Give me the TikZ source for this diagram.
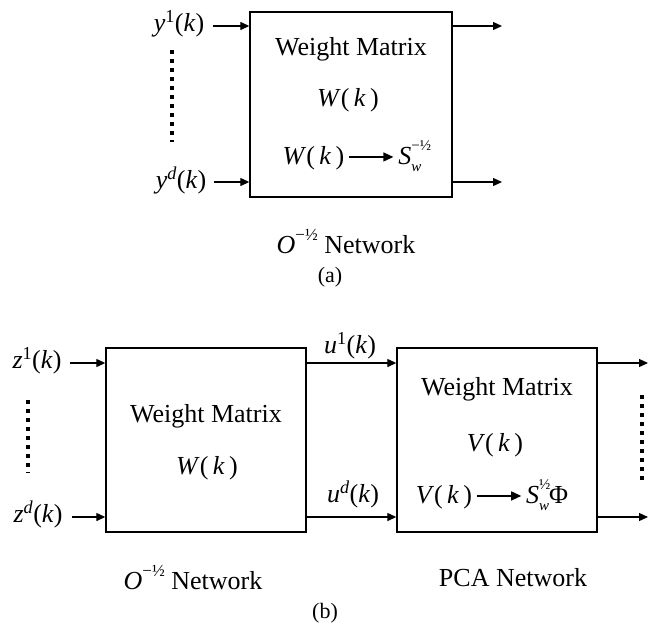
\documentclass[tikz,border=0pt]{standalone}
\usepackage{fontspec}
\setmainfont{Liberation Serif}
\usetikzlibrary{arrows.meta}
\newcommand\mi[1]{\textit{#1}}
\newcommand\smallsz{\fontsize{15}{15}\selectfont}
\newcommand\supsz{\fontsize{17}{17}\selectfont}
\newcommand\kk{(\,\mi{k}\,)}
\newcommand\lk{(\mi{k})}
\newcommand\sarrow{\tikz[baseline=-0.3em]\draw[line width=1.3pt,-{Triangle[length=10pt,width=9pt]}] (0pt,0pt)--(1.7em,0pt);}
\begin{document}
\begin{tikzpicture}[x=1pt,y=-1pt,
  box/.style={draw,line width=1.4pt,minimum width=202pt,minimum height=185pt,inner sep=0pt},
  arr/.style={line width=1.3pt,-{Triangle[length=9pt,width=8pt]}},
  dotl/.style={line width=4pt,dash pattern=on 4pt off 5pt},
  txt/.style={font=\fontsize{26}{30}\selectfont,inner sep=0pt},
  captxt/.style={font=\fontsize{22}{26}\selectfont,inner sep=0pt}]
\useasboundingbox (0,0) rectangle (650,625);
% ---------------- (a) ----------------
\node[box] (A) at (351,104.5) {};
\node[txt] (ay1) at (179,24) {\mi{y}\textsuperscript{1}\lk};
\node[txt] (ayd) at (181,180) {\mi{y}\textsuperscript{\mi{d}}\lk};
\coordinate (ai1) at (213,26);
\coordinate (aid) at (214,182);
\draw[arr] (ai1) -- (ai1 -| A.west);
\draw[arr] (aid) -- (aid -| A.west);
\coordinate (ao1) at (502,26);
\coordinate (aod) at (502,182);
\draw[arr] (ao1 -| A.east) -- (ao1);
\draw[arr] (aod -| A.east) -- (aod);
\coordinate (adt) at (172,50);
\coordinate (adb) at (172,142);
\draw[dotl] (adt) -- (adb);
\node[txt] (awm) at (351,49) {Weight Matrix};
\node[txt] (aw) at (348,100) {\mi{W}\kk};
\node[txt] (awr) at (352,156) {\mi{W}\kk\,\sarrow\,\mi{S}\rlap{\raisebox{0.55em}{\smallsz −½}}\raisebox{-0.25em}{\smallsz\mi{w}}};
\node[txt] (anet) at (346,242) {\mi{O}\raisebox{0.5em}{\supsz −½} Network};
\node[captxt] (alab) at (330,277) {(a)};
% ---------------- (b) ----------------
\node[box,minimum width=200pt,minimum height=184pt] (B1) at (206,440) {};
\node[box,minimum width=200pt,minimum height=184pt] (B2) at (497,440) {};
\node[txt] (bz1) at (37,361) {\mi{z}\textsuperscript{1}\lk};
\node[txt] (bzd) at (38,514) {\mi{z}\textsuperscript{\mi{d}}\lk};
\coordinate (bi1) at (70,363);
\coordinate (bid) at (72,517);
\draw[arr] (bi1) -- (bi1 -| B1.west);
\draw[arr] (bid) -- (bid -| B1.west);
\coordinate (bm1) at (350,363);
\coordinate (bmd) at (350,517);
\draw[arr] (bm1 -| B1.east) -- (bm1 -| B2.west);
\draw[arr] (bmd -| B1.east) -- (bmd -| B2.west);
\node[txt] (bu1) at (350,346) {\mi{u}\textsuperscript{1}\lk};
\node[txt] (bud) at (353,494) {\mi{u}\textsuperscript{\mi{d}}\lk};
\coordinate (bo1) at (648,363);
\coordinate (bod) at (648,517);
\draw[arr] (bo1 -| B2.east) -- (bo1);
\draw[arr] (bod -| B2.east) -- (bod);
\coordinate (bdlt) at (28,400);
\coordinate (bdlb) at (28,473);
\draw[dotl] (bdlt) -- (bdlb);
\coordinate (bdrt) at (642,395);
\coordinate (bdrb) at (642,482);
\draw[dotl] (bdrt) -- (bdrb);
\node[txt] (b1wm) at (206,416) {Weight Matrix};
\node[txt] (b1w) at (207,468) {\mi{W}\kk};
\node[txt] (b2wm) at (497,389) {Weight Matrix};
\node[txt] (b2v) at (495,445) {\mi{V}\kk};
\node[txt] (b2vr) at (492,495) {\mi{V}\kk\,\sarrow\,\mi{S}\rlap{\raisebox{0.55em}{\smallsz ½}}\raisebox{-0.25em}{\smallsz\mi{w}}Φ};
\node[txt] (bnet1) at (193,578) {\mi{O}\raisebox{0.5em}{\supsz −½} Network};
\node[txt] (bnet2) at (513,578) {PCA Network};
\node[captxt] (blab) at (325,613) {(b)};
\end{tikzpicture}
\end{document}
